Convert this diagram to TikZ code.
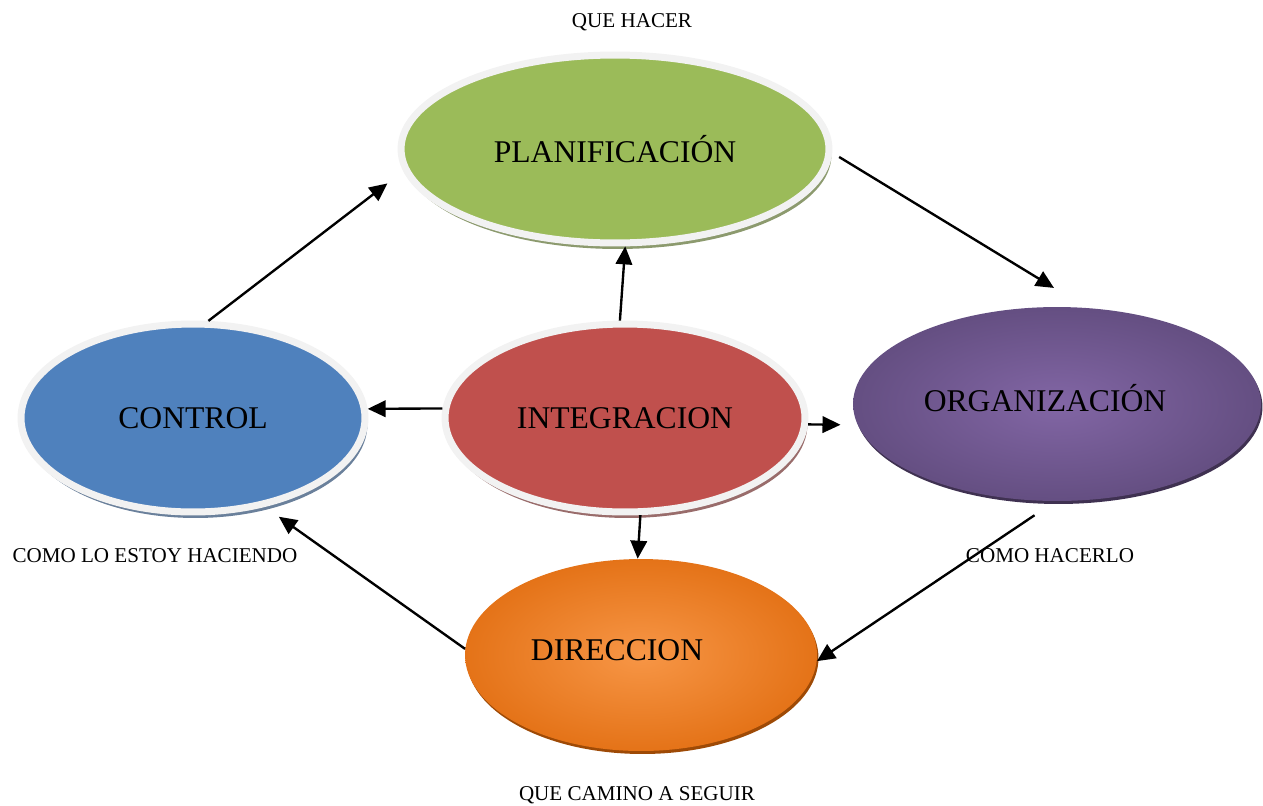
\documentclass[tikz,border=0pt]{standalone}
\usepackage{fontspec}
\setmainfont{Liberation Serif}
\usetikzlibrary{shapes.geometric,arrows.meta,shadows}
\definecolor{ring}{HTML}{F2F2F2}
\definecolor{plangreen}{HTML}{9BBB59}
\definecolor{ctrlblue}{HTML}{4F81BD}
\definecolor{integred}{HTML}{C0504D}
\definecolor{orgin}{HTML}{8266A5}
\definecolor{orgout}{HTML}{5C4878}
\definecolor{orgrim}{HTML}{3F3151}
\definecolor{dirin}{HTML}{F79646}
\definecolor{dirout}{HTML}{DF690B}
\definecolor{dirrim}{HTML}{9E4A06}
\pgfdeclareradialshading{orgshade}{\pgfpoint{0bp}{0bp}}{color(0bp)=(orgin); color(32bp)=(orgout); color(50bp)=(orgout)}
\pgfdeclareradialshading{dirshade}{\pgfpoint{0bp}{0bp}}{color(0bp)=(dirin); color(32bp)=(dirout); color(50bp)=(dirout)}
\begin{document}
\begin{tikzpicture}[x=0.02cm, y=-0.02cm, line join=round,
		bigtxt/.style={font=\fontsize{18}{20}\selectfont},
		note/.style={font=\fontsize{12}{14}\selectfont, inner sep=0pt},
		blob/.style={ellipse, inner sep=0pt, bigtxt},
		ringed/.style 2 args={blob, fill=#1, draw=ring, line width=0.14cm,
			drop shadow={shadow xshift=0.05cm, shadow yshift=-0.12cm, fill=#2, opacity=1}},
		shaded/.style 2 args={blob, shading=#1,
			drop shadow={shadow xshift=0.03cm, shadow yshift=-0.06cm, fill=#2, opacity=1}},
		arr/.style={-{Triangle[length=0.36cm,width=0.33cm]}, line width=1.35pt}]
	\useasboundingbox (0,0) rectangle (1263,805);
	% the five stages
	\node[ringed={plangreen}{plangreen!45!gray}, minimum width=8.56cm, minimum height=3.76cm] (plan) at (615,149) {PLANIFICACIÓN};
	\node[ringed={ctrlblue}{ctrlblue!45!gray}, minimum width=6.88cm, minimum height=3.76cm] (ctrl) at (193,418) {CONTROL};
	\node[ringed={integred}{integred!40!gray}, minimum width=7.2cm, minimum height=3.76cm] (integ) at (625,418) {INTEGRACION};
	\node[shaded={orgshade}{orgrim}, minimum width=8.16cm, minimum height=3.88cm] (org) at (1057,404) {};
	\node[shaded={dirshade}{dirrim}, minimum width=7.04cm, minimum height=3.84cm] (dir) at (641,655) {};
	\node[bigtxt] (orgtxt) at (1045,398) {ORGANIZACIÓN};
	\node[bigtxt] (dirtxt) at (617,650) {DIRECCION};
	% questions
	\node[note] (qhacer) at (632,22) {QUE HACER};
	\node[note] (comoestoy) at (155,556) {COMO LO ESTOY HACIENDO};
	\node[note] (comohacer) at (1050,556) {COMO HACERLO};
	\node[note] (camino) at (637,795) {QUE CAMINO A SEGUIR};
	% cycle
	\draw[arr, shorten >=0.4cm] (ctrl.81) -- (plan.186);
	\draw[arr, shorten <=0.16cm, shorten >=0.76cm] (plan.-1) -- (org.73);
	\draw[arr, shorten <=0.5cm] (org.269) -- (dir.-2);
	\draw[arr, shorten >=0.34cm] (dir.178) -- (ctrl.-51);
	% from the centre
	\draw[arr] (integ.93) -- (plan.-84);
	\draw[arr] (integ.177) -- (ctrl.3);
	\draw[arr, shorten >=0.34cm] (integ.-2) -- (org.186);
	\draw[arr] (integ.-81) -- (dir.92);
\end{tikzpicture}
\end{document}
